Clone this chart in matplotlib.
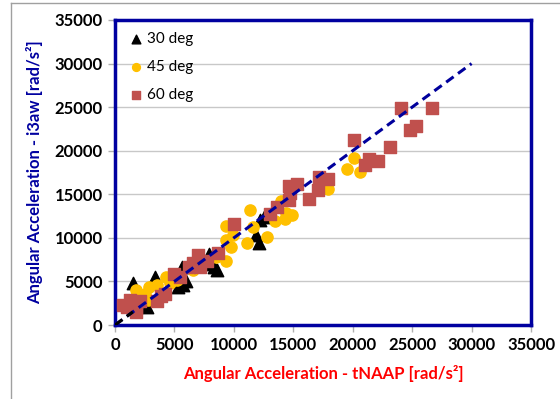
import matplotlib
matplotlib.use("Agg")
import matplotlib.pyplot as plt
from matplotlib.lines import Line2D

plt.rcParams["font.family"] = ["Lato", "DejaVu Sans"]

# 30 deg (black triangles)
x30 = [1500, 3400, 5700, 5300, 5600, 7900, 8000, 8300, 8600, 7700, 12100, 11900, 12200, 12500, 2400, 2700, 6000, 8200]
y30 = [4800, 5500, 4600, 4400, 6700, 8200, 7500, 6700, 6300, 7100, 9400, 10300, 12000, 12400, 3300, 2100, 5000, 7000]
# 45 deg (yellow circles)
x45 = [20100, 19500, 20600, 17900, 14400, 14900, 14300, 13500, 14000, 11400, 11600, 12800, 11100, 9300, 9900, 9300,
       9800, 9300, 8500, 4300, 3500, 2900, 2500, 2800, 2200, 1800, 4600, 5200, 6600]
y45 = [19200, 17900, 17600, 15600, 12800, 12600, 12200, 11900, 14200, 13200, 11300, 10100, 9400, 11400, 10300, 9800,
       9000, 7400, 7800, 5500, 4600, 4400, 3600, 2900, 3300, 4000, 4800, 5200, 6300]
# 60 deg (red squares)
x60 = [26700, 24100, 24800, 25300, 23100, 20100, 22100, 21400, 21000, 17900, 17200, 17100, 16300, 15300, 14600, 14600,
       14700, 13600, 13000, 10000, 8700, 7000, 6600, 6200, 5000, 5500, 7150, 7700, 3900, 3500, 1800, 1300, 700, 2100,
       1000, 1800, 4200]
y60 = [24900, 24900, 22400, 22800, 20400, 21200, 18800, 19000, 18400, 16800, 17000, 15500, 14500, 16200, 15900, 14300,
       15100, 13500, 12700, 11600, 8300, 8000, 7100, 6700, 5900, 5500, 6700, 7300, 3300, 2700, 1900, 2900, 2300, 2700,
       2100, 1500, 3600]

fit_x = [0, 30000]
fit_y = [0, 30000]

fig = plt.figure(figsize=(5.6, 3.99), dpi=100)
ax = fig.add_axes([115 / 560, 1 - 325 / 399, 416 / 560, 305 / 399])

ax.scatter(x30, y30, marker="^", s=80, color="black", label="30 deg", zorder=3)
ax.scatter(x45, y45, marker="o", s=65, color="#FFC000", label="45 deg", zorder=3)
ax.scatter(x60, y60, marker="s", s=80, color="#C0504D", label="60 deg", zorder=3)
ax.plot(fit_x, fit_y, ls=(0, (3, 1.8)), color="#00009C", lw=2.2, zorder=4)
ax.plot([0, 1500], [0, 1500], ls=(0, (3, 1.8)), color="black", lw=2.2, zorder=5)

ax.set_xlim(0, 35000)
ax.set_ylim(0, 35000)
ax.set_xticks(range(0, 35001, 5000))
ax.set_yticks(range(0, 35001, 5000))
ax.yaxis.grid(True, color="#C8C8C8", lw=1)
ax.set_axisbelow(True)
for sp in ax.spines.values():
    sp.set_color("#0000A0")
    sp.set_linewidth(2.5)
ax.tick_params(length=5, color="#B0B0B0", width=1, labelsize=12, pad=4)
for lab in ax.get_xticklabels() + ax.get_yticklabels():
    lab.set_fontweight("bold")

ax.set_xlabel("Angular Acceleration - tNAAP [rad/s²]", color="#FF0000", fontsize=12, fontweight="bold", labelpad=8)
ax.set_ylabel("Angular Acceleration - i3aw [rad/s²]", color="#0000A0", fontsize=12, fontweight="bold", labelpad=8)

ax.legend(loc="upper left", frameon=False, fontsize=11, handletextpad=0.1, labelspacing=0.9,
          borderaxespad=0.4, handlelength=1.2, markerscale=0.7)

# chart area border (partially visible)
fig.add_artist(Line2D([11 / 560, 11 / 560], [0, 1 - 3 / 399], color="#A0A0A0", lw=1))
fig.add_artist(Line2D([11 / 560, 1], [1 - 3 / 399, 1 - 3 / 399], color="#A0A0A0", lw=1))

plt.savefig("out.png", dpi=100)
